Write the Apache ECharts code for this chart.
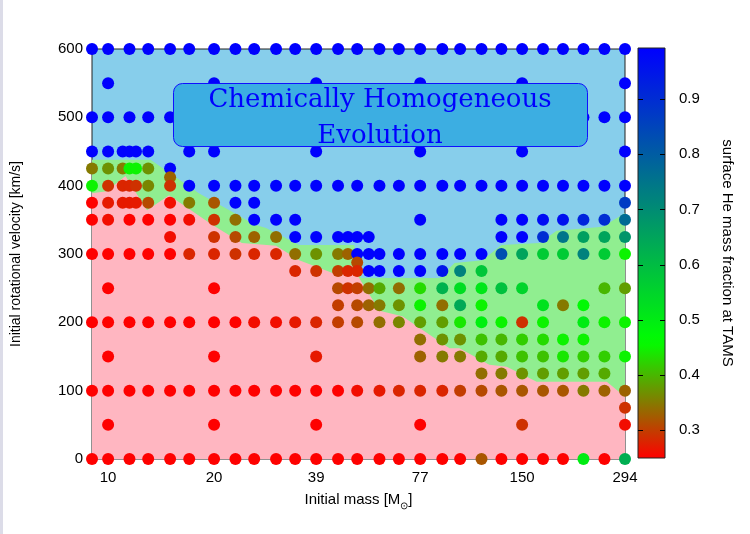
<!DOCTYPE html>
<html><head><meta charset="utf-8">
<script src="https://cdn.jsdelivr.net/npm/echarts@6/dist/echarts.min.js"></script>
<style>html,body{margin:0;padding:0;background:#fff}#c{width:750px;height:534px}</style>
</head><body><div id="c"></div>
<script>
// ---------- data ----------
const massTicks = [10, 20, 39, 77, 150, 294];
const heTicks = [0.3, 0.4, 0.5, 0.6, 0.7, 0.8, 0.9];
const massMin = 9, massMax = 294;
const heMin = 0.249, heMax = 0.993;

// each row: [initial mass, surface He fraction at TAMS]
const row600 = [[9,.99],[10,.99],[11.5,.99],[13,.99],[15,.99],[17,.99],[20,.99],[23,.99],[26,.99],[30,.99],[34,.99],[39,.99],[45,.99],[51,.99],[59,.99],[67,.99],[77,.99],[89,.99],[100,.99],[115,.99],[131,.99],[150,.99],[172,.99],[196,.99],[224,.99],[257,.99],[294,.99]];
const row550 = [[10,.99],[20,.99],[39,.99],[77,.99],[150,.99],[294,.99]];
const row500 = [[9,.99],[10,.99],[11.5,.99],[13,.99],[15,.99],[17,.99],[20,.99],[23,.99],[26,.99],[30,.99],[34,.99],[39,.99],[45,.99],[51,.99],[59,.99],[67,.99],[77,.99],[89,.99],[100,.99],[115,.99],[131,.99],[150,.99],[172,.99],[196,.99],[224,.99],[257,.99],[294,.99]];
const row450 = [[9,.99],[10,.99],[11,.99],[11.5,.99],[12,.99],[13,.99],[17,.99],[20,.99],[39,.99],[77,.99],[150,.99],[294,.99]];
const row425 = [[9,.35],[10,.37],[11,.35],[11.5,.45],[12,.45],[13,.37],[15,.99]];
const row412 = [[15,.33]];
const row400 = [[9,.45],[10,.29],[11,.28],[11.5,.28],[12,.29],[13,.36],[15,.29],[17,.99],[20,.99],[23,.99],[26,.99],[30,.99],[34,.99],[39,.99],[45,.99],[51,.99],[59,.99],[67,.99],[77,.99],[89,.99],[100,.99],[115,.99],[131,.99],[150,.99],[172,.99],[196,.99],[224,.99],[257,.99],[294,.99]];
const row375 = [[9,.25],[10,.27],[11,.27],[11.5,.27],[12,.27],[13,.31],[15,.26],[17,.35],[20,.32],[23,.99],[26,.99],[294,.87]];
const row350 = [[9,.25],[10,.26],[11.5,.25],[13,.25],[15,.25],[17,.26],[20,.29],[23,.34],[26,.99],[30,.99],[34,.99],[77,.99],[131,.99],[150,.99],[172,.97],[196,.96],[224,.92],[257,.90],[294,.77]];
const row325 = [[15,.26],[20,.29],[23,.31],[26,.33],[30,.34],[34,.99],[39,.99],[45,.99],[48,.99],[51,.99],[55,.99],[131,.99],[150,.99],[172,.90],[196,.75],[224,.66],[257,.65],[294,.68]];
const row300 = [[9,.25],[10,.25],[11.5,.25],[13,.25],[15,.25],[17,.28],[20,.28],[23,.29],[26,.28],[30,.28],[34,.34],[39,.37],[45,.35],[48,.33],[51,.99],[55,.99],[59,.99],[67,.99],[77,.99],[89,.99],[100,.99],[115,.99],[131,.83],[150,.65],[172,.57],[196,.57],[224,.72],[257,.57],[294,.45]];
const row287 = [[51,.31]];
const row275 = [[34,.28],[39,.29],[45,.30],[48,.28],[51,.28],[55,.99],[59,.99],[67,.99],[77,.99],[89,.95],[100,.72],[115,.58]];
const row250 = [[10,.25],[20,.25],[45,.31],[48,.29],[51,.30],[55,.34],[59,.39],[67,.34],[77,.43],[89,.62],[100,.53],[115,.51],[131,.59],[150,.55],[257,.40],[294,.38]];
const row225 = [[45,.30],[51,.31],[55,.33],[59,.35],[67,.37],[77,.45],[89,.34],[100,.64],[115,.45],[172,.52],[196,.35],[224,.47]];
const row200 = [[9,.25],[10,.25],[11.5,.25],[13,.25],[15,.25],[17,.25],[20,.25],[23,.25],[26,.26],[30,.26],[34,.27],[39,.28],[45,.30],[51,.31],[59,.34],[67,.36],[77,.38],[89,.38],[100,.44],[115,.49],[131,.45],[150,.29],[172,.45],[224,.50],[257,.45],[294,.45]];
const row175 = [[77,.34],[89,.37],[100,.37],[115,.41],[131,.40],[150,.42],[172,.43],[196,.45],[224,.45]];
const row150 = [[10,.25],[20,.25],[39,.27],[77,.33],[89,.35],[100,.35],[115,.39],[131,.39],[150,.41],[172,.41],[196,.44],[224,.42],[257,.42],[294,.45]];
const row125 = [[115,.34],[131,.35],[150,.37],[172,.38],[196,.38],[224,.38],[257,.39]];
const row100 = [[9,.25],[10,.25],[11.5,.25],[13,.25],[15,.25],[17,.25],[20,.25],[23,.25],[26,.25],[30,.25],[34,.25],[39,.25],[45,.25],[51,.26],[59,.27],[67,.28],[77,.28],[89,.28],[100,.30],[115,.31],[131,.32],[150,.32],[172,.32],[196,.32],[224,.35],[257,.33],[294,.33]];
const row75 = [[294,.29]];
const row50 = [[10,.25],[20,.25],[39,.25],[77,.25],[150,.29],[294,.26]];
const row0 = [[9,.25],[10,.25],[11.5,.25],[13,.25],[15,.25],[17,.25],[20,.25],[23,.25],[26,.25],[30,.25],[34,.25],[39,.25],[45,.25],[51,.25],[59,.25],[67,.25],[77,.25],[89,.25],[100,.25],[115,.32],[131,.25],[150,.25],[172,.25],[196,.25],[224,.50],[257,.25],[294,.63]];

const rowVelocities = [600,550,500,450,425,412.5,400,375,350,325,300,287.5,275,250,225,200,175,150,125,100,75,50,0];
const rowData = [row600,row550,row500,row450,row425,row412,row400,row375,row350,row325,row300,row287,row275,row250,row225,row200,row175,row150,row125,row100,row75,row50,row0];

// region boundaries: [mass, velocity]
const greenTop = [[9,438],[13.2,438],[18.1,389],[22.5,362],[26,343],[28.1,338],[34.9,313],[50,313],[52.4,265],[87.4,265],[96.4,287],[115.8,291],[131,313],[168,316],[188,334],[254,340],[294,360]];
const pinkTop = [[9,389],[9.9,392],[11.2,414],[12.9,364],[14.9,386],[19.7,343],[24,316],[30,312],[34.9,291],[42.5,274],[45.3,268],[49,284],[59,217],[68.5,209],[93.3,162],[99.6,162],[121,138],[135.6,135],[165,113],[261,113],[294,91]];

// ---------- build ----------
const lg = Math.log10;
const points = [];
rowData.forEach((row, i) => row.forEach(p => points.push([lg(p[0]), rowVelocities[i], p[1]])));
const toXY = arr => arr.map(p => [lg(p[0]), p[1]]);

// palette: red -> green (0.46) -> blue
function pal(v) {
  const g0 = 0.46;
  let r, g, b;
  if (v <= g0) { const t = (v - heMin) / (g0 - heMin); r = 255 * (1 - t); g = 255 * t; b = 0; }
  else { const t = (v - g0) / (heMax - g0); r = 0; g = 255 * (1 - t); b = 255 * t; }
  return 'rgb(' + Math.round(r) + ',' + Math.round(g) + ',' + Math.round(b) + ')';
}
const N = 40;
const stops = [], gradStops = [];
for (let i = 0; i <= N; i++) {
  stops.push(pal(heMin + (heMax - heMin) * i / N));
  gradStops.push({offset: i / N, color: pal(heMax - (heMax - heMin) * i / N)});
}

const FONT = 'Liberation Sans';
const chart = echarts.init(document.getElementById('c'), null, {renderer: 'canvas'});
chart.setOption({
  backgroundColor: '#ffffff',
  animation: false,
  textStyle: {fontFamily: FONT},
  grid: [
    {left: 92, top: 49, width: 533, height: 410, show: true, backgroundColor: '#87ceeb', borderColor: '#222', borderWidth: 1, z: 0},
    {left: 638, top: 48, width: 27, height: 410, show: true,
     backgroundColor: new echarts.graphic.LinearGradient(0, 0, 0, 1, gradStops),
     borderColor: '#222', borderWidth: 1}
  ],
  xAxis: [
    {type: 'value', gridIndex: 0, min: lg(massMin), max: lg(massMax),
     axisLine: {show: false}, axisTick: {show: false}, splitLine: {show: false},
     axisLabel: {customValues: massTicks.map(lg), formatter: v => String(Math.round(Math.pow(10, v))), fontSize: 15, color: '#000', margin: 11, fontFamily: FONT},
     name: 'Initial mass [M{sun|⊙}]', nameLocation: 'middle', nameGap: 30,
     nameTextStyle: {fontSize: 15, color: '#000', fontFamily: FONT, rich: {sun: {fontSize: 10, padding: [12, 0, 0, 0], color: '#000'}}}},
    {type: 'value', gridIndex: 1, show: false, min: 0, max: 1}
  ],
  yAxis: [
    {type: 'value', gridIndex: 0, min: 0, max: 600, interval: 100,
     axisLine: {show: false}, axisTick: {show: false}, splitLine: {show: false},
     axisLabel: {fontSize: 15, color: '#000', margin: 9, fontFamily: FONT},
     name: 'Initial rotational velocity [km/s]', nameLocation: 'middle', nameGap: 69, nameRotate: 90,
     nameTextStyle: {fontSize: 14, color: '#000', fontFamily: FONT}},
    {type: 'value', gridIndex: 1, min: heMin, max: heMax, position: 'right',
     axisLine: {show: false}, splitLine: {show: false}, axisTick: {show: false},
     axisLabel: {customValues: heTicks, formatter: v => v.toFixed(1), fontSize: 15, color: '#000', margin: 14, fontFamily: FONT},
     name: 'surface He mass fraction at TAMS', nameLocation: 'middle', nameGap: 55, nameRotate: -90,
     nameTextStyle: {fontSize: 15, color: '#000', fontFamily: FONT}}
  ],
  visualMap: {
    type: 'continuous', show: false, min: heMin, max: heMax, dimension: 2, seriesIndex: 2,
    inRange: {color: stops}
  },
  series: [
    {type: 'line', xAxisIndex: 0, yAxisIndex: 0, data: toXY(greenTop), symbol: 'none', silent: true,
     lineStyle: {width: 0}, areaStyle: {color: '#90ee90', opacity: 1}, z: 1},
    {type: 'line', xAxisIndex: 0, yAxisIndex: 0, data: toXY(pinkTop), symbol: 'none', silent: true,
     lineStyle: {width: 0}, areaStyle: {color: '#ffb6c1', opacity: 1}, z: 2},
    {type: 'scatter', xAxisIndex: 0, yAxisIndex: 0, data: points, symbolSize: 12, clip: false, z: 5,
     itemStyle: {opacity: 1}},
    // colour-bar tick marks on both inner edges, placed through the colour-bar axis scale
    {type: 'custom', xAxisIndex: 1, yAxisIndex: 1, silent: true, clip: false, z: 10,
     data: heTicks.map(v => [0, v]),
     renderItem: (params, api) => {
       const y = Math.round(api.coord([0, api.value(1)])[1]) + 0.5;
       const cs = params.coordSys;
       return {type: 'group', children: [
         {type: 'line', shape: {x1: cs.x, y1: y, x2: cs.x + 5, y2: y}, style: {stroke: '#000', lineWidth: 1}},
         {type: 'line', shape: {x1: cs.x + cs.width - 5, y1: y, x2: cs.x + cs.width, y2: y}, style: {stroke: '#000', lineWidth: 1}}
       ]};
     }}
  ],
  graphic: [
    {type: 'rect', left: 0, top: 0, shape: {width: 3, height: 534}, style: {fill: '#dcdce8'}, z: 0},
    {type: 'rect', x: 173.5, y: 83.5, shape: {width: 414, height: 63, r: 9}, style: {fill: '#3caee2', stroke: '#1010ff', lineWidth: 1}, z: 100},
    {type: 'text', x: 380, y: 82, style: {text: 'Chemically Homogeneous\nEvolution', fill: '#0000ff', font: '26px "DejaVu Serif"', align: 'center', verticalAlign: 'top', lineHeight: 36}, z: 101}
  ]
});
</script></body></html>
